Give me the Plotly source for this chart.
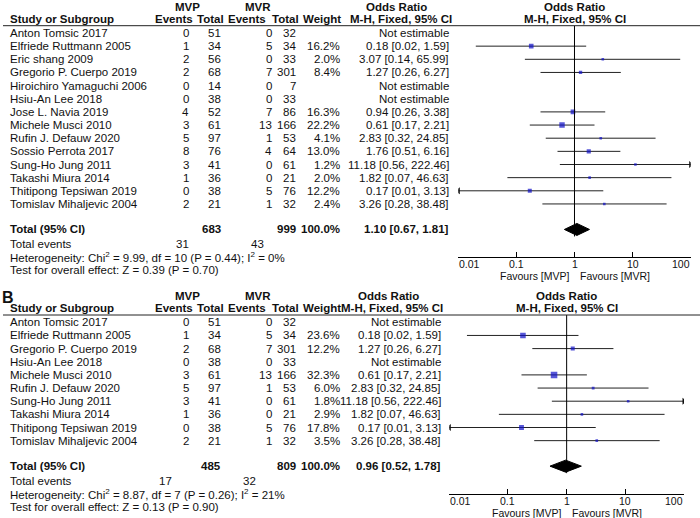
import math
import plotly.graph_objects as go

# ---------------- data ----------------
studies_A = ["Anton Tomsic 2017", "Elfriede Ruttmann 2005", "Eric shang 2009",
             "Gregorio P. Cuerpo 2019", "Hiroichiro Yamaguchi 2006", "Hsiu-An Lee 2018",
             "Jose L. Navia 2019", "Michele Musci 2010", "Rufin J. Defauw 2020",
             "Sossio Perrota 2017", "Sung-Ho Jung 2011", "Takashi Miura 2014",
             "Thitipong Tepsiwan 2019", "Tomislav Mihaljevic 2004"]
mvp_events_A = [0, 1, 2, 2, 0, 0, 4, 3, 5, 8, 3, 1, 0, 2]
mvp_total_A = [51, 34, 56, 68, 14, 38, 52, 61, 97, 76, 41, 36, 38, 21]
mvr_events_A = [0, 5, 0, 7, 0, 0, 7, 13, 1, 4, 0, 0, 5, 1]
mvr_total_A = [32, 34, 33, 301, 7, 33, 86, 166, 53, 64, 61, 21, 76, 32]
weight_A = [None, 16.2, 2.0, 8.4, None, None, 16.3, 22.2, 4.1, 13.0, 1.2, 2.0, 12.2, 2.4]
or_A = [None, 0.18, 3.07, 1.27, None, None, 0.94, 0.61, 2.83, 1.76, 11.18, 1.82, 0.17, 3.26]
lo_A = [None, 0.02, 0.14, 0.26, None, None, 0.26, 0.17, 0.32, 0.51, 0.56, 0.07, 0.01, 0.28]
hi_A = [None, 1.59, 65.99, 6.27, None, None, 3.38, 2.21, 24.85, 6.16, 222.46, 46.63, 3.13, 38.48]
total_A = {"mvp_total": 683, "mvr_total": 999, "or": 1.10, "lo": 0.67, "hi": 1.81,
           "mvp_events": 31, "mvr_events": 43}
het_A = "Heterogeneity: Chi<sup>2</sup> = 9.99, df = 10 (P = 0.44); I<sup>2</sup> = 0%"
test_A = "Test for overall effect: Z = 0.39 (P = 0.70)"

studies_B = ["Anton Tomsic 2017", "Elfriede Ruttmann 2005", "Gregorio P. Cuerpo 2019",
             "Hsiu-An Lee 2018", "Michele Musci 2010", "Rufin J. Defauw 2020",
             "Sung-Ho Jung 2011", "Takashi Miura 2014", "Thitipong Tepsiwan 2019",
             "Tomislav Mihaljevic 2004"]
mvp_events_B = [0, 1, 2, 0, 3, 5, 3, 1, 0, 2]
mvp_total_B = [51, 34, 68, 38, 61, 97, 41, 36, 38, 21]
mvr_events_B = [0, 5, 7, 0, 13, 1, 0, 0, 5, 1]
mvr_total_B = [32, 34, 301, 33, 166, 53, 61, 21, 76, 32]
weight_B = [None, 23.6, 12.2, None, 32.3, 6.0, 1.8, 2.9, 17.8, 3.5]
or_B = [None, 0.18, 1.27, None, 0.61, 2.83, 11.18, 1.82, 0.17, 3.26]
lo_B = [None, 0.02, 0.26, None, 0.17, 0.32, 0.56, 0.07, 0.01, 0.28]
hi_B = [None, 1.59, 6.27, None, 2.21, 24.85, 222.46, 46.63, 3.13, 38.48]
total_B = {"mvp_total": 485, "mvr_total": 809, "or": 0.96, "lo": 0.52, "hi": 1.78,
           "mvp_events": 17, "mvr_events": 32}
het_B = "Heterogeneity: Chi<sup>2</sup> = 8.87, df = 7 (P = 0.26); I<sup>2</sup> = 21%"
test_B = "Test for overall effect: Z = 0.13 (P = 0.90)"

tick_values = [0.01, 0.1, 1, 10, 100]
tick_labels = ["0.01", "0.1", "1", "10", "100"]

# ---------------- layout constants ----------------
W, H = 700, 518
FONT = "Liberation Sans"
TXT = "#111111"
BLUE = "#1010c8"
FS = 11.5
FS_AX = 10.5

fig = go.Figure()
annotations = []
shapes = []


def txt(x, y, s, anchor="left", bold=False, size=FS, xref="x", yanchor="middle"):
    if bold:
        s = "<b>" + s + "</b>"
    annotations.append(dict(x=x, y=y, xref=xref, yref="y", text=s, showarrow=False,
                            xanchor=anchor, yanchor=yanchor, borderpad=0,
                            font=dict(family=FONT, size=size, color=TXT)))


panels = [
    dict(letter="A", top=0.0, studies=studies_A, me=mvp_events_A, mt=mvp_total_A,
         re=mvr_events_A, rt=mvr_total_A, w=weight_A, orv=or_A, lo=lo_A, hi=hi_A,
         tot=total_A, het=het_A, test=test_A, xa="x2", ya="y2",
         or_right=450, or_hdr=396, or_hdr2=401, plot_left=458.3, plot_right=690.7,
         ev_tot_x=(182, 257)),
    dict(letter="B", top=289.3, studies=studies_B, me=mvp_events_B, mt=mvp_total_B,
         re=mvr_events_B, rt=mvr_total_B, w=weight_B, orv=or_B, lo=lo_B, hi=hi_B,
         tot=total_B, het=het_B, test=test_B, xa="x3", ya="y3",
         or_right=442, or_hdr=388, or_hdr2=392, plot_left=449.3, plot_right=684.0,
         ev_tot_x=(165, 249)),
]

ROW_SP = 13.15

for p in panels:
    t = p["top"]
    line_y = t + 25.7
    n = len(p["studies"])
    rows_y = [line_y + 7.3 + i * ROW_SP for i in range(n)]
    total_y = rows_y[-1] + 25.5
    events_y = total_y + 14.5
    het_y = events_y + 13
    test_y = het_y + 13
    axis_y = total_y + 27.5

    # headers
    txt(1, t - 1, p["letter"], bold=True, size=16, yanchor="top")
    txt(187, t + 6.5, "MVP", anchor="center", bold=True)
    txt(258, t + 6.5, "MVR", anchor="center", bold=True)
    txt(p["or_hdr"], t + 6.5, "Odds Ratio", anchor="center", bold=True)
    txt(9, t + 18.5, "Study or Subgroup", bold=True)
    txt(174, t + 18.5, "Events", anchor="center", bold=True)
    txt(210, t + 18.5, "Total", anchor="center", bold=True)
    txt(247, t + 18.5, "Events", anchor="center", bold=True)
    txt(285, t + 18.5, "Total", anchor="center", bold=True)
    txt(322, t + 18.5, "Weight", anchor="center", bold=True)
    txt(p["or_hdr2"], t + 18.5, "M-H, Fixed, 95% CI", anchor="center", bold=True)
    # forest plot header (centered on OR = 1)
    for yy, s in ((t + 6.5, "Odds Ratio"), (t + 18.5, "M-H, Fixed, 95% CI")):
        annotations.append(dict(x=0, y=yy, xref=p["xa"], yref="y", text="<b>" + s + "</b>",
                                showarrow=False, xanchor="center", yanchor="middle",
                                borderpad=0, font=dict(family=FONT, size=FS, color=TXT)))
    shapes.append(dict(type="line", xref="x", yref="y", x0=3, x1=700, y0=line_y, y1=line_y,
                       line=dict(color="#222222", width=1)))

    # rows
    for i in range(n):
        y = rows_y[i]
        txt(9, y, p["studies"][i])
        txt(190, y, str(p["me"][i]), anchor="right")
        txt(222, y, str(p["mt"][i]), anchor="right")
        txt(273, y, str(p["re"][i]), anchor="right")
        txt(297, y, str(p["rt"][i]), anchor="right")
        if p["w"][i] is not None:
            txt(341, y, f"{p['w'][i]:.1f}%", anchor="right")
        if p["orv"][i] is None:
            txt(p["or_right"], y, "Not estimable", anchor="right")
        else:
            txt(p["or_right"], y, f"{p['orv'][i]:.2f} [{p['lo'][i]:.2f}, {p['hi'][i]:.2f}]",
                anchor="right")

    # totals
    tt = p["tot"]
    txt(9, total_y, "Total (95% CI)", bold=True)
    txt(222, total_y, str(tt["mvp_total"]), anchor="right", bold=True)
    txt(297, total_y, str(tt["mvr_total"]), anchor="right", bold=True)
    txt(341, total_y, "100.0%", anchor="right", bold=True)
    txt(p["or_right"], total_y, f"{tt['or']:.2f} [{tt['lo']:.2f}, {tt['hi']:.2f}]",
        anchor="right", bold=True)
    txt(9, events_y, "Total events")
    txt(p["ev_tot_x"][0], events_y, str(tt["mvp_events"]), anchor="center")
    txt(p["ev_tot_x"][1], events_y, str(tt["mvr_events"]), anchor="center")
    txt(9, het_y, p["het"])
    txt(9, test_y, p["test"])

    # ---- forest plot traces ----
    xa, ya = p["xa"], p["ya"]
    xmin, xmax = tick_values[0], tick_values[-1]
    for i in range(n):
        if p["orv"][i] is None:
            continue
        y = rows_y[i]
        lo, hi = p["lo"][i], p["hi"][i]
        l_clip, h_clip = max(lo, xmin), min(hi, xmax)
        fig.add_trace(go.Scatter(x=[l_clip, h_clip], y=[y, y], mode="lines",
                                 line=dict(color="#222222", width=1),
                                 xaxis=xa, yaxis=ya, hoverinfo="skip", showlegend=False))
        if lo <= xmin:
            fig.add_trace(go.Scatter(x=[l_clip], y=[y], mode="markers",
                                     marker=dict(symbol="triangle-left", size=6, color="#111"),
                                     xaxis=xa, yaxis=ya, hoverinfo="skip", showlegend=False))
        if hi > xmax:
            fig.add_trace(go.Scatter(x=[h_clip], y=[y], mode="markers",
                                     marker=dict(symbol="triangle-right", size=6, color="#111"),
                                     xaxis=xa, yaxis=ya, hoverinfo="skip", showlegend=False))
    est_x = [p["orv"][i] for i in range(n) if p["orv"][i] is not None]
    est_y = [rows_y[i] for i in range(n) if p["orv"][i] is not None]
    est_s = [max(2.6, 1.15 * math.sqrt(p["w"][i])) for i in range(n) if p["orv"][i] is not None]
    fig.add_trace(go.Scatter(x=est_x, y=est_y, mode="markers",
                             marker=dict(symbol="square", size=est_s, color=BLUE,
                                         line=dict(width=0)),
                             xaxis=xa, yaxis=ya, hoverinfo="skip", showlegend=False))
    # diamond
    dh = 6
    fig.add_trace(go.Scatter(x=[tt["lo"], tt["or"], tt["hi"], tt["or"], tt["lo"]],
                             y=[total_y, total_y - dh, total_y, total_y + dh, total_y],
                             mode="lines", fill="toself", fillcolor="black",
                             line=dict(color="black", width=1),
                             xaxis=xa, yaxis=ya, hoverinfo="skip", showlegend=False))
    # line of no effect
    fig.add_trace(go.Scatter(x=[1, 1], y=[line_y, total_y + dh + 1], mode="lines",
                             line=dict(color="black", width=1),
                             xaxis=xa, yaxis=ya, hoverinfo="skip", showlegend=False))

    # axes
    xkey = "xaxis" + xa[1:]
    ykey = "yaxis" + ya[1:]
    fig.update_layout({
        xkey: dict(domain=[p["plot_left"] / W, p["plot_right"] / W], type="log",
                   range=[math.log10(xmin), math.log10(xmax)], anchor=ya,
                   showline=True, linecolor="black", linewidth=1, ticks="inside",
                   ticklen=5, tickcolor="black", tickvals=tick_values,
                   showticklabels=False, showgrid=False, zeroline=False, fixedrange=True),
        ykey: dict(domain=[(H - axis_y) / H, (H - line_y) / H], range=[axis_y, line_y],
                   anchor=xa, visible=False, showgrid=False, zeroline=False, fixedrange=True),
    })
    # tick labels
    for k, (v, lab) in enumerate(zip(tick_values, tick_labels)):
        anc = "left" if k == 0 else ("right" if k == len(tick_values) - 1 else "center")
        annotations.append(dict(x=math.log10(v), y=axis_y + 7.5, xref=xa, yref="y", text=lab,
                                showarrow=False, xanchor=anc, yanchor="middle", borderpad=0,
                                font=dict(family=FONT, size=FS_AX, color=TXT)))
    for s, anc, sh in (("Favours [MVP]", "right", -4), ("Favours [MVR]", "left", 4)):
        annotations.append(dict(x=0, y=axis_y + 19.5, xref=xa, yref="y", text=s,
                                showarrow=False, xanchor=anc, yanchor="middle", xshift=sh,
                                borderpad=0, font=dict(family=FONT, size=FS_AX, color=TXT)))

fig.update_layout(
    width=W, height=H, margin=dict(l=0, r=0, t=0, b=0),
    paper_bgcolor="white", plot_bgcolor="white", showlegend=False,
    xaxis=dict(domain=[0, 1], range=[0, W], visible=False, fixedrange=True),
    yaxis=dict(domain=[0, 1], range=[H, 0], visible=False, fixedrange=True),
    annotations=annotations, shapes=shapes,
)

fig.write_html("out.html", config={"displayModeBar": False},
               post_script="document.body.style.margin='0';document.body.style.padding='0';")
